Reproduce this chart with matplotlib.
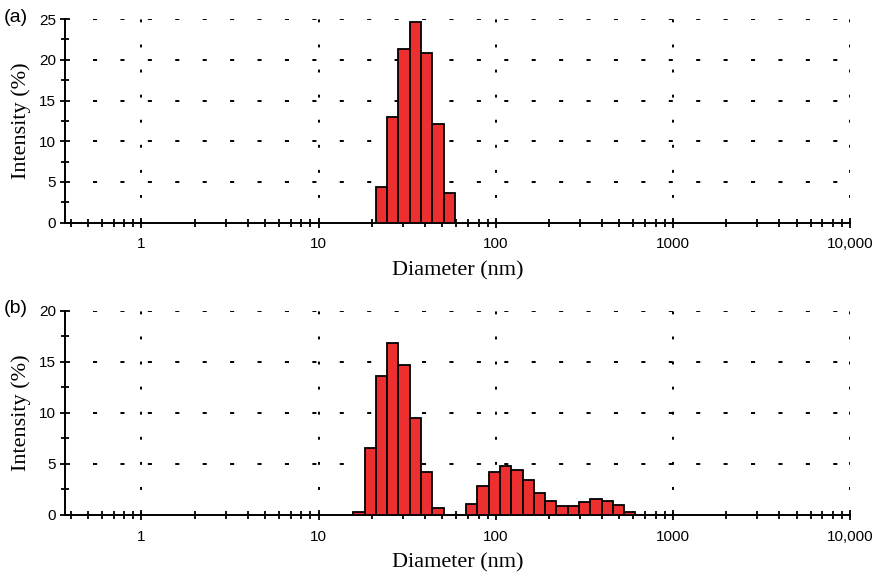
import numpy as np
import matplotlib
matplotlib.use('Agg')
import matplotlib.pyplot as plt
from matplotlib.ticker import FixedLocator, MultipleLocator, LogLocator, NullFormatter

# Zetasizer size classes (bin edges, nm) used by the bars
size_edges = [15.69, 18.17, 21.04, 24.36, 28.21, 32.67, 37.84, 43.82, 50.75, 58.77,
              68.06, 78.82, 91.28, 105.7, 122.4, 141.8, 164.2, 190.1, 220.2, 255.0,
              295.3, 342.0, 396.1, 458.7, 531.2, 615.1]

# (a) intensities, first bin starts at 21.04 nm
a_start = 21.04
a_intensity = [4.4, 13.0, 21.3, 24.6, 20.8, 12.1, 3.7]

# (b) intensities, first mode starts at 15.69 nm, second at 68.06 nm
b1_start = 15.69
b1_intensity = [0.3, 6.6, 13.6, 16.8, 14.7, 9.5, 4.2, 0.7]
b2_start = 68.06
b2_intensity = [1.1, 2.85, 4.2, 4.8, 4.4, 3.4, 2.2, 1.35, 0.9, 0.9, 1.3, 1.55, 1.35, 0.95, 0.26]

x_ticks = [1, 10, 100, 1000, 10000]
x_ticklabels = ['1', '10', '100', '1000', '10,000']

SANS = 'Liberation Sans'
SERIF = 'Liberation Serif'
BAR_COLOR = '#ee2f2f'


def draw_bars(ax, start, values):
    i0 = size_edges.index(start)
    left = np.array(size_edges[i0:i0 + len(values)])
    right = np.array(size_edges[i0 + 1:i0 + 1 + len(values)])
    ax.bar(left, values, width=right - left, align='edge', color=BAR_COLOR,
           edgecolor='black', linewidth=1.3, zorder=3)


def style_axis(ax, ymax, label):
    ax.set_xscale('log')
    ax.set_xlim(0.37, 10000)
    ax.set_ylim(0, ymax)
    for s in ['top', 'right']:
        ax.spines[s].set_visible(False)
    for s in ['left', 'bottom']:
        ax.spines[s].set_linewidth(1.4)
    ax.xaxis.set_major_locator(FixedLocator(x_ticks))
    ax.set_xticklabels(x_ticklabels, fontname=SANS, fontsize=11)
    ax.xaxis.set_minor_locator(LogLocator(base=10, subs=np.arange(2, 10), numticks=20))
    ax.xaxis.set_minor_formatter(NullFormatter())
    ax.yaxis.set_major_locator(MultipleLocator(5))
    ax.yaxis.set_minor_locator(MultipleLocator(2.5))
    for lab in ax.get_yticklabels():
        lab.set_fontname(SANS)
        lab.set_fontsize(11)
    ax.tick_params(which='both', direction='inout', width=1.3)
    ax.tick_params(which='major', length=7)
    ax.tick_params(which='minor', length=6)
    ax.tick_params(axis='x', pad=7)
    ax.tick_params(axis='y', pad=3)

    # sparse dashed horizontal grid and dotted vertical grid
    for y in np.arange(5, ymax + 0.1, 5):
        ax.axhline(y, xmin=0.036, color='black', linewidth=1.4,
                   linestyle=(0, (2.1, 12.0)), zorder=1)
    for x in x_ticks:
        ax.axvline(x, color='black', linewidth=1.4,
                   linestyle=(0, (1.5, 11.4)), zorder=1)

    ax.set_xlabel('Diameter (nm)', fontname=SERIF, fontsize=16, labelpad=7)
    ax.set_ylabel('Intensity (%)', fontname=SERIF, fontsize=16, labelpad=6)
    ax.text(-0.078, 1.01, label, transform=ax.transAxes, fontname=SANS,
            fontsize=14, ha='left', va='center')


fig = plt.figure(figsize=(8.77, 5.77), dpi=100)
ax_a = fig.add_axes([0.0741, 0.614, 0.895, 0.353])
ax_b = fig.add_axes([0.0741, 0.1075, 0.895, 0.354])

draw_bars(ax_a, a_start, a_intensity)
style_axis(ax_a, 25, '(a)')

draw_bars(ax_b, b1_start, b1_intensity)
draw_bars(ax_b, b2_start, b2_intensity)
style_axis(ax_b, 20, '(b)')

fig.savefig('out.png', dpi=100)
